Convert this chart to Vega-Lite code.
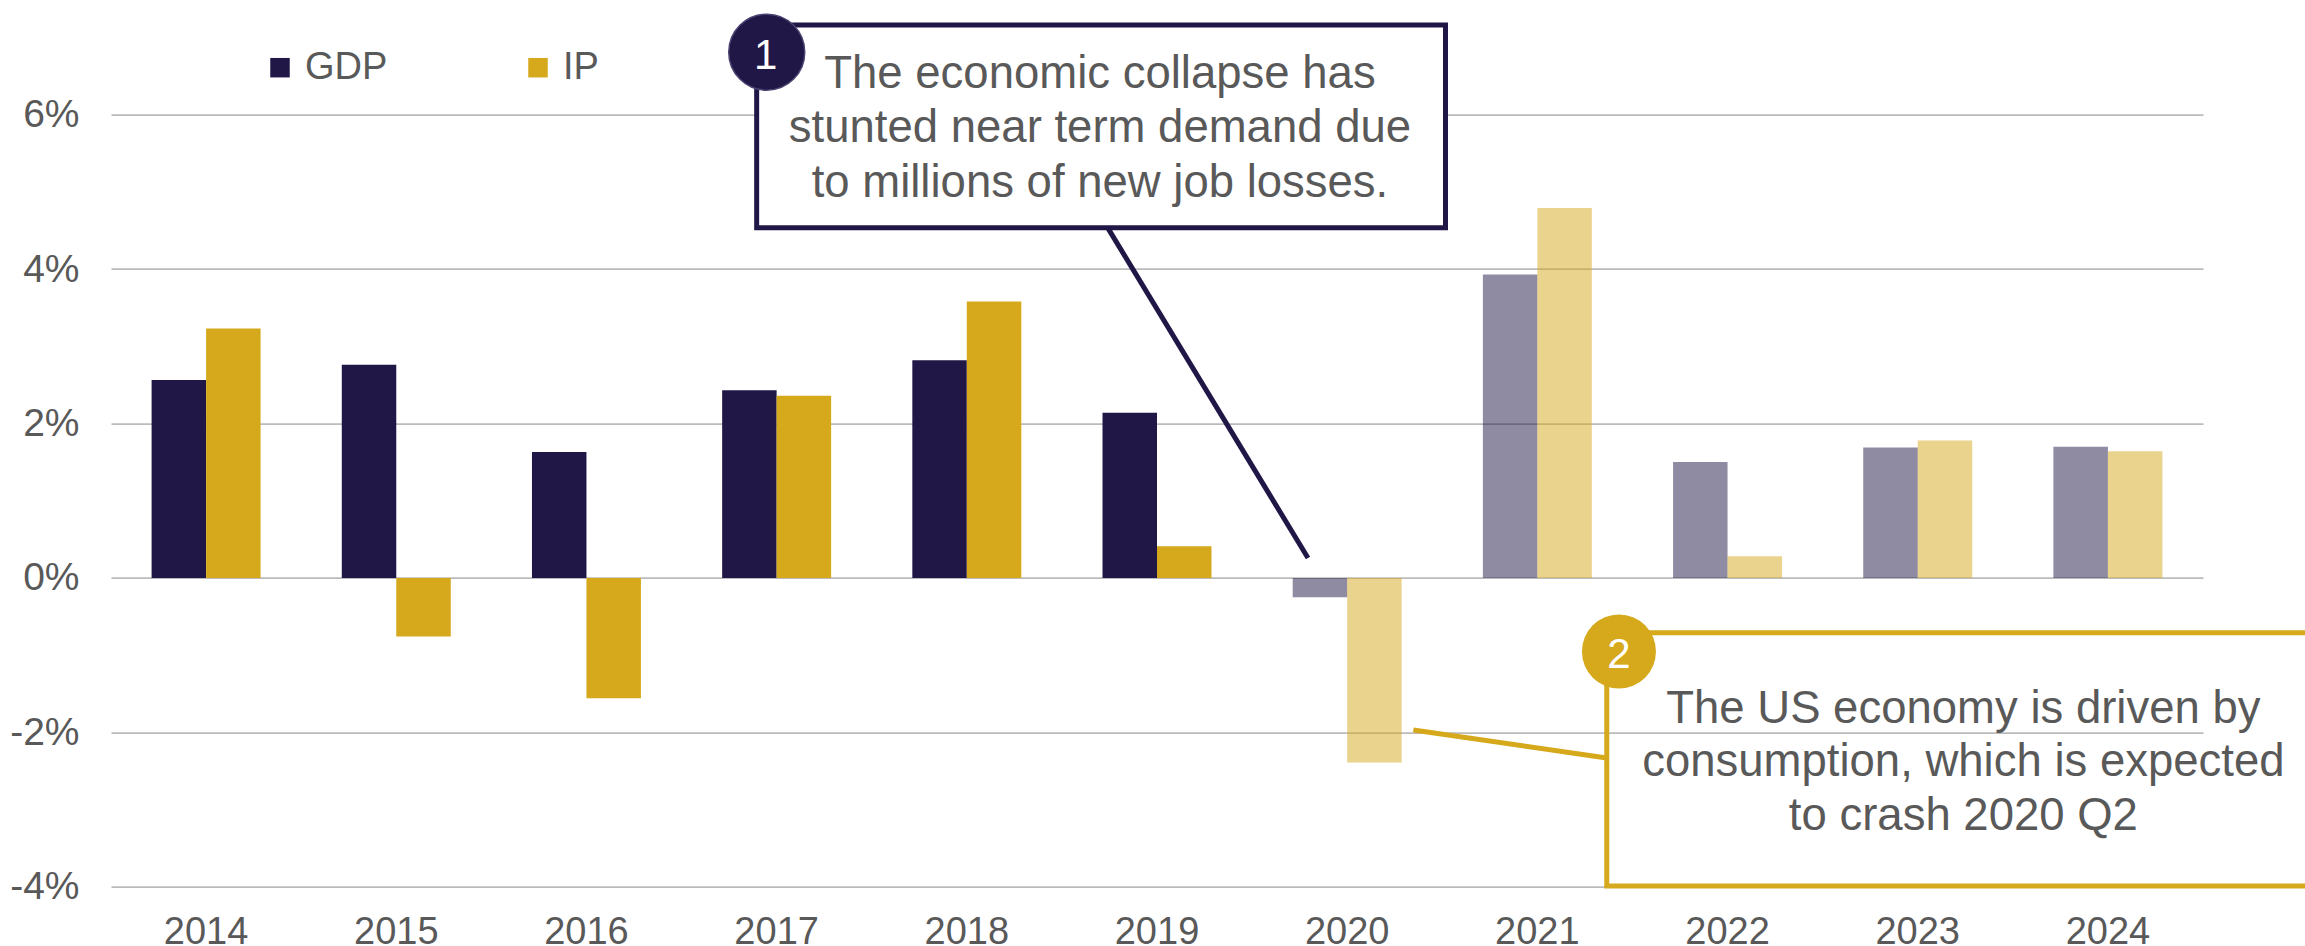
{
  "$schema": "https://vega.github.io/schema/vega-lite/v6.json",
  "width": 2092,
  "height": 772,
  "autosize": {"type": "none"},
  "padding": {"left": 111, "top": 114.7, "right": 102, "bottom": 59.3},
  "background": "white",
  "config": {"view": {"stroke": null}, "font": "Liberation Sans"},
  "resolve": {"scale": {"x": "independent"}, "axis": {"x": "independent", "y": "independent"}},
  "layer": [
    {
      "data": {"values": [
        {"year": "2014", "series": "GDP", "value": 2.565, "phase": "actual"},
        {"year": "2014", "series": "IP", "value": 3.23, "phase": "actual"},
        {"year": "2015", "series": "GDP", "value": 2.76, "phase": "actual"},
        {"year": "2015", "series": "IP", "value": -0.76, "phase": "actual"},
        {"year": "2016", "series": "GDP", "value": 1.63, "phase": "actual"},
        {"year": "2016", "series": "IP", "value": -1.56, "phase": "actual"},
        {"year": "2017", "series": "GDP", "value": 2.43, "phase": "actual"},
        {"year": "2017", "series": "IP", "value": 2.36, "phase": "actual"},
        {"year": "2018", "series": "GDP", "value": 2.82, "phase": "actual"},
        {"year": "2018", "series": "IP", "value": 3.58, "phase": "actual"},
        {"year": "2019", "series": "GDP", "value": 2.14, "phase": "actual"},
        {"year": "2019", "series": "IP", "value": 0.41, "phase": "actual"},
        {"year": "2020", "series": "GDP", "value": -0.25, "phase": "forecast"},
        {"year": "2020", "series": "IP", "value": -2.39, "phase": "forecast"},
        {"year": "2021", "series": "GDP", "value": 3.93, "phase": "forecast"},
        {"year": "2021", "series": "IP", "value": 4.79, "phase": "forecast"},
        {"year": "2022", "series": "GDP", "value": 1.5, "phase": "forecast"},
        {"year": "2022", "series": "IP", "value": 0.28, "phase": "forecast"},
        {"year": "2023", "series": "GDP", "value": 1.69, "phase": "forecast"},
        {"year": "2023", "series": "IP", "value": 1.78, "phase": "forecast"},
        {"year": "2024", "series": "GDP", "value": 1.7, "phase": "forecast"},
        {"year": "2024", "series": "IP", "value": 1.64, "phase": "forecast"}
      ]},
      "mark": {"type": "bar"},
      "encoding": {
        "x": {
          "field": "year", "type": "nominal",
          "scale": {"paddingInner": 0.427, "paddingOuter": 0.2135},
          "axis": {"title": null, "domain": false, "ticks": false, "grid": false, "labelAngle": 0, "labelPadding": 27, "labelFontSize": 38, "labelColor": "#595959", "labelFont": "Liberation Sans"}
        },
        "xOffset": {"field": "series", "type": "nominal", "scale": {"domain": ["GDP", "IP"], "paddingInner": 0, "paddingOuter": 0}},
        "y": {
          "field": "value", "type": "quantitative",
          "scale": {"domain": [-4, 6], "nice": false, "zero": false},
          "axis": {"title": null, "values": [-4, -2, 0, 2, 4, 6], "labelExpr": "datum.value + '%'", "domain": false, "ticks": false, "grid": true, "gridColor": "#BBBBBB", "gridWidth": 1.8, "labelPadding": 32, "labelFontSize": 39, "labelColor": "#595959", "labelFont": "Liberation Sans"}
        },
        "color": {
          "field": "series", "type": "nominal",
          "scale": {"domain": ["GDP", "IP"], "range": ["#201747", "#D5A91B"]},
          "legend": {"orient": "none", "legendX": 150, "legendY": -66, "direction": "horizontal", "title": null, "symbolType": "square", "symbolSize": 380, "symbolStrokeWidth": 0, "symbolOpacity": 1, "labelFontSize": 38, "labelColor": "#595959", "labelFont": "Liberation Sans", "labelOffset": 6, "columnPadding": 131}
        },
        "opacity": {"field": "phase", "type": "nominal", "scale": {"domain": ["actual", "forecast"], "range": [1, 0.5]}, "legend": null}
      }
    },
    {
      "data": {"values": [{}]},
      "layer": [
        {
          "mark": {"type": "rect", "fill": "white", "stroke": "#201747", "strokeWidth": 5},
          "encoding": {
            "x": {"datum": 2016.895, "type": "quantitative", "scale": {"domain": [2013.5, 2024.5], "nice": false, "zero": false}, "axis": null},
            "x2": {"datum": 2020.517},
            "y": {"datum": 7.162, "type": "quantitative", "scale": {"domain": [-4, 6], "nice": false, "zero": false}, "axis": null},
            "y2": {"datum": 4.536}
          }
        },
        {
          "mark": {"type": "rect", "fill": null, "fillOpacity": 0, "stroke": "#D5A91B", "strokeWidth": 5},
          "encoding": {
            "x": {"datum": 2021.365, "type": "quantitative", "axis": null},
            "x2": {"datum": 2025.3},
            "y": {"datum": -0.71, "type": "quantitative", "axis": null},
            "y2": {"datum": -3.99}
          }
        },
        {
          "mark": {"type": "rule", "stroke": "#201747", "strokeWidth": 5},
          "encoding": {
            "x": {"datum": 2018.742, "type": "quantitative", "axis": null},
            "x2": {"datum": 2019.794},
            "y": {"datum": 4.531, "type": "quantitative", "axis": null},
            "y2": {"datum": 0.258}
          }
        },
        {
          "mark": {"type": "rule", "stroke": "#D5A91B", "strokeWidth": 5},
          "encoding": {
            "x": {"datum": 2020.348, "type": "quantitative", "axis": null},
            "x2": {"datum": 2021.365},
            "y": {"datum": -1.97, "type": "quantitative", "axis": null},
            "y2": {"datum": -2.333}
          }
        },
        {
          "mark": {"type": "point", "shape": "circle", "filled": true, "size": 5776, "fill": "#201747", "stroke": "#4A4270", "strokeWidth": 1.5, "opacity": 1},
          "encoding": {
            "x": {"datum": 2016.948, "type": "quantitative", "axis": null},
            "y": {"datum": 6.81, "type": "quantitative", "axis": null}
          }
        },
        {
          "mark": {"type": "point", "shape": "circle", "filled": true, "size": 5476, "fill": "#D5A91B", "strokeWidth": 0, "opacity": 1},
          "encoding": {
            "x": {"datum": 2021.429, "type": "quantitative", "axis": null},
            "y": {"datum": -0.953, "type": "quantitative", "axis": null}
          }
        },
        {
          "mark": {"type": "text", "text": "1", "fontSize": 42, "color": "white", "align": "center", "baseline": "middle", "font": "Liberation Sans"},
          "encoding": {
            "x": {"datum": 2016.943, "type": "quantitative", "axis": null},
            "y": {"datum": 6.764, "type": "quantitative", "axis": null}
          }
        },
        {
          "mark": {"type": "text", "text": "2", "fontSize": 42, "color": "white", "align": "center", "baseline": "middle", "font": "Liberation Sans"},
          "encoding": {
            "x": {"datum": 2021.429, "type": "quantitative", "axis": null},
            "y": {"datum": -1.004, "type": "quantitative", "axis": null}
          }
        },
        {
          "mark": {"type": "text", "text": ["The economic collapse has", "stunted near term demand due", "to millions of new job losses."], "lineHeight": 54.5, "fontSize": 45.5, "color": "#595959", "align": "center", "baseline": "alphabetic", "font": "Liberation Sans"},
          "encoding": {
            "x": {"datum": 2018.7, "type": "quantitative", "axis": null},
            "y": {"datum": 6.346, "type": "quantitative", "axis": null}
          }
        },
        {
          "mark": {"type": "text", "text": ["The US economy is driven by", "consumption, which is expected", "to crash 2020 Q2"], "lineHeight": 53.7, "fontSize": 45.5, "color": "#595959", "align": "center", "baseline": "alphabetic", "font": "Liberation Sans"},
          "encoding": {
            "x": {"datum": 2023.24, "type": "quantitative", "axis": null},
            "y": {"datum": -1.876, "type": "quantitative", "axis": null}
          }
        }
      ]
    }
  ]
}
